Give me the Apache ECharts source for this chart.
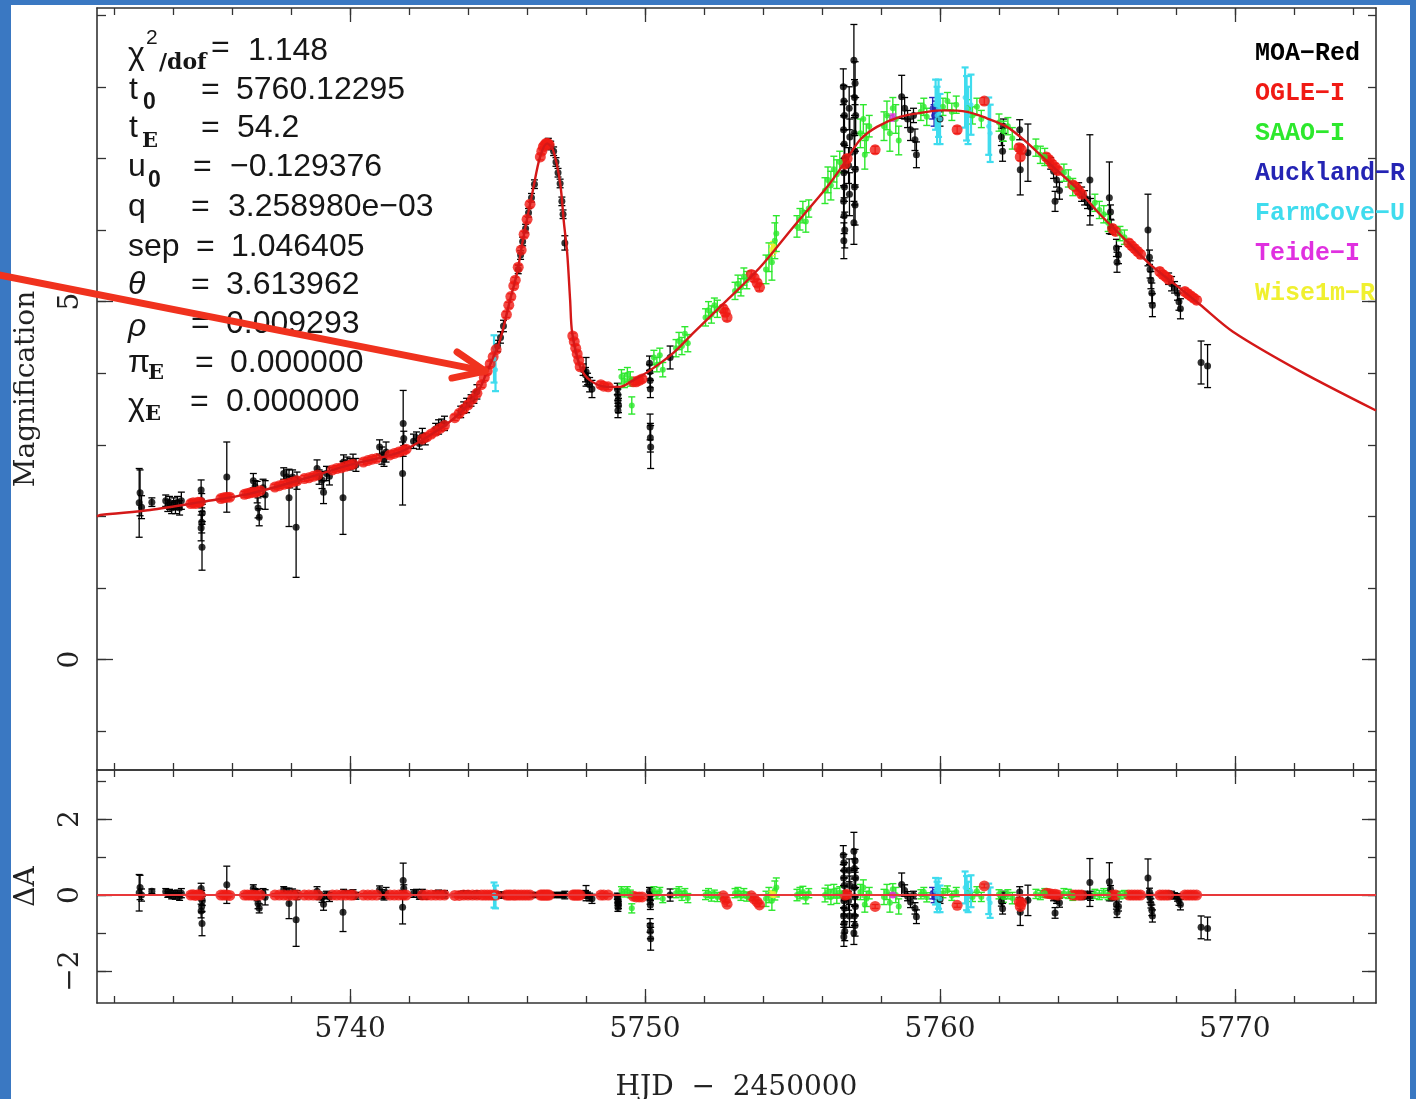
<!DOCTYPE html>
<html><head><meta charset="utf-8">
<script src="https://cdn.jsdelivr.net/npm/echarts@6/dist/echarts.min.js"></script>
<style>
html,body{margin:0;padding:0;width:1416px;height:1099px;overflow:hidden;background:#3a78c2;}
#paper{position:absolute;left:11px;top:5px;width:1399px;height:1094px;background:#ffffff;}
#chart{position:absolute;left:0;top:0;width:1416px;height:1099px;}
</style></head>
<body><div id="paper"></div><div id="chart"></div>
<script>
// ---------- axes ----------
const X_MIN = 5731.42, X_MAX = 5774.78;
const TOP_MIN = -1.54, TOP_MAX = 9.10;
const RES_MIN = -2.84, RES_MAX = 3.29;
const xMajorTicks = [5740, 5750, 5760, 5770];
const xMinorTicks = [5732,5734,5736,5738,5740,5742,5744,5746,5748,5750,5752,5754,5756,5758,5760,5762,5764,5766,5768,5770,5772,5774];
const topMajorTicks = [0, 5];
const topMinorTicks = [-1,0,1,2,3,4,5,6,7,8,9];
const resMajorTicks = [-2, 0, 2];
const resMinorTicks = [-2,-1,0,1,2,3];

// ---------- model curve ----------
const modelT = [5731.42,5731.53,5733.22,5734.92,5736.61,5738.31,5740.00,5741.69,5742.80,5743.40,5744.00,5744.41,5744.58,5745.08,5745.42,5745.66,5745.86,5746.20,5746.44,5746.68,5746.88,5747.12,5747.25,5747.36,5747.46,5747.53,5747.80,5748.14,5748.71,5749.15,5749.59,5750.17,5750.95,5751.63,5752.78,5753.90,5755.02,5756.17,5756.75,5757.29,5757.86,5758.64,5759.56,5760.10,5760.92,5761.59,5762.27,5762.95,5763.73,5764.64,5765.42,5766.34,5767.12,5768.03,5768.81,5769.93,5772.20,5774.78];
const modelA = [2.00,2.02,2.09,2.20,2.32,2.51,2.72,2.90,3.16,3.33,3.56,3.80,3.96,4.46,5.02,5.40,5.86,6.56,7.02,7.21,7.12,6.66,6.10,5.68,5.02,4.56,4.09,3.90,3.81,3.81,3.90,4.04,4.28,4.56,5.02,5.48,6.04,6.60,6.93,7.26,7.44,7.58,7.65,7.67,7.65,7.56,7.44,7.22,6.92,6.58,6.22,5.84,5.52,5.22,4.96,4.58,4.03,3.48];

// ---------- data: [HJD-2450000, magnification, error, residual] ----------
const moaData = [
[5732.85,2.19,0.48,0.06],[5732.88,2.33,0.32,0.20],[5732.93,2.13,0.16,0.00],[5733.28,2.20,0.06,0.10],
[5733.75,2.22,0.08,0.09],[5733.82,2.15,0.08,0.02],[5733.88,2.19,0.09,0.06],[5733.95,2.12,0.08,-0.02],
[5734.02,2.18,0.08,0.04],[5734.08,2.13,0.09,-0.02],[5734.15,2.20,0.08,0.05],[5734.22,2.12,0.10,-0.04],[5734.28,2.22,0.12,0.05],
[5734.95,2.37,0.14,0.17],[5734.97,2.22,0.10,0.02],[5734.99,2.05,0.12,-0.15],[5734.97,1.92,0.15,-0.30],[5734.95,1.84,0.18,-0.42],[5734.98,1.57,0.32,-0.75],
[5735.82,2.55,0.49,0.27],
[5736.72,2.50,0.10,0.17],[5736.78,2.42,0.08,0.09],[5736.85,2.34,0.15,0.00],[5736.88,2.12,0.14,-0.22],[5736.92,1.99,0.12,-0.35],[5737.05,2.40,0.12,0.05],[5737.12,2.30,0.20,-0.06],
[5737.75,2.60,0.08,0.14],[5737.85,2.55,0.10,0.08],[5737.95,2.48,0.08,0.01],[5737.93,2.26,0.40,-0.22],[5738.17,1.85,0.70,-0.65],[5738.05,2.55,0.10,0.06],[5738.20,2.50,0.12,0.00],
[5738.88,2.67,0.12,0.10],[5738.95,2.55,0.10,-0.02],[5739.05,2.51,0.12,-0.07],[5739.10,2.34,0.16,-0.24],[5739.20,2.60,0.10,0.00],[5739.30,2.56,0.12,-0.05],
[5739.76,2.26,0.51,-0.45],[5739.78,2.76,0.10,0.05],[5739.90,2.75,0.08,0.04],[5740.00,2.73,0.08,0.01],[5740.10,2.77,0.10,0.04],[5740.20,2.72,0.09,-0.02],
[5741.00,2.97,0.10,0.14],[5741.08,2.85,0.12,0.02],[5741.15,2.80,0.10,-0.03],[5741.22,2.90,0.14,0.06],
[5741.80,3.30,0.46,0.38],[5741.82,3.09,0.10,0.17],[5741.78,2.60,0.44,-0.32],
[5742.15,3.05,0.10,0.04],[5742.25,3.10,0.08,0.07],[5742.35,3.02,0.08,-0.03],[5742.45,3.13,0.10,0.05],[5742.55,3.08,0.08,-0.03],
[5742.90,3.22,0.08,0.03],[5743.00,3.25,0.10,0.03],[5743.10,3.28,0.08,0.03],[5743.20,3.30,0.10,0.02],
[5743.75,3.46,0.08,0.01],[5743.85,3.52,0.08,0.03],[5743.95,3.55,0.10,0.01],[5744.10,3.62,0.08,0.01],[5744.20,3.66,0.08,-0.01],[5744.30,3.74,0.10,0.01],
[5745.00,4.38,0.08,0.00],[5745.10,4.50,0.08,0.00],[5745.20,4.66,0.08,0.00],
[5745.70,5.45,0.06,0.00],[5745.78,5.65,0.06,0.00],[5745.85,5.84,0.06,0.00],[5745.95,6.02,0.06,0.00],[5746.05,6.24,0.06,0.00],[5746.15,6.45,0.06,0.00],[5746.25,6.64,0.06,0.00],
[5746.72,7.22,0.06,0.00],[5746.80,7.18,0.06,0.00],[5746.90,7.10,0.06,0.00],[5746.98,6.95,0.06,0.00],[5747.05,6.80,0.06,0.00],[5747.12,6.65,0.06,0.00],[5747.18,6.40,0.06,0.00],[5747.22,6.22,0.06,0.00],[5747.28,5.82,0.10,0.00],
[5747.90,4.05,0.08,0.03],[5747.98,3.98,0.10,0.02],[5748.00,4.02,0.20,0.05],[5748.05,3.92,0.08,0.00],[5748.12,3.84,0.10,-0.05],[5748.20,3.78,0.12,-0.10],
[5749.06,3.78,0.08,-0.03],[5749.08,3.70,0.08,-0.11],[5749.08,3.62,0.08,-0.19],[5749.10,3.55,0.10,-0.26],[5749.08,3.48,0.10,-0.33],
[5750.15,4.14,0.10,0.10],[5750.16,4.02,0.10,-0.02],[5750.17,3.90,0.10,-0.14],[5750.18,3.78,0.12,-0.26],[5750.17,3.25,0.18,-0.80],[5750.18,3.10,0.20,-0.95],[5750.19,2.97,0.30,-1.15],
[5750.85,4.22,0.16,0.00],
[5756.72,8.00,0.25,1.05],[5756.74,7.80,0.22,0.85],[5756.76,7.60,0.20,0.65],[5756.73,7.40,0.20,0.45],[5756.75,7.20,0.20,0.25],[5756.77,7.00,0.18,0.05],
[5756.74,6.80,0.20,-0.15],[5756.76,6.60,0.20,-0.35],[5756.73,6.40,0.22,-0.55],[5756.75,6.20,0.25,-0.75],[5756.77,6.00,0.25,-0.95],[5756.74,5.85,0.25,-1.10],
[5756.92,7.70,0.30,0.65],[5756.94,7.30,0.25,0.25],[5756.90,6.90,0.25,-0.15],[5756.93,6.50,0.30,-0.55],
[5757.08,8.37,0.50,1.15],[5757.12,8.05,0.30,0.90],[5757.10,7.85,0.25,0.70],[5757.14,7.60,0.25,0.45],[5757.09,7.35,0.22,0.20],
[5757.11,7.10,0.22,-0.05],[5757.13,6.85,0.25,-0.30],[5757.10,6.60,0.25,-0.55],[5757.12,6.35,0.28,-0.80],[5757.08,6.10,0.30,-1.00],
[5758.70,7.86,0.30,0.28],[5758.80,7.70,0.15,0.12],[5758.90,7.55,0.12,-0.03],[5759.00,7.40,0.15,-0.18],[5759.10,7.60,0.10,0.00],[5759.15,7.26,0.15,-0.35],[5759.20,7.05,0.18,-0.57],
[5760.00,7.55,0.10,-0.12],
[5762.08,7.30,0.12,-0.17],[5762.12,7.10,0.14,-0.36],[5762.15,7.45,0.10,0.00],
[5762.70,7.40,0.14,0.08],[5762.72,6.84,0.35,-0.45],[5762.98,7.08,0.40,-0.14],
[5763.75,6.93,0.08,0.01],[5763.85,6.82,0.10,-0.05],[5763.95,6.70,0.10,-0.12],[5764.05,6.55,0.12,-0.20],[5763.90,6.40,0.14,-0.47],
[5764.70,6.58,0.08,0.02],[5764.80,6.50,0.10,-0.02],[5764.90,6.45,0.10,0.00],[5765.00,6.38,0.08,-0.02],[5765.10,6.32,0.12,-0.02],[5765.08,6.70,0.63,0.33],
[5765.74,6.45,0.50,0.35],[5765.78,6.25,0.10,0.15],[5765.80,6.04,0.10,-0.05],[5765.98,5.75,0.12,-0.25],[5766.00,5.55,0.14,-0.45],[5766.05,5.65,0.12,-0.30],
[5767.05,6.00,0.50,0.45],[5767.10,5.62,0.10,0.08],[5767.12,5.45,0.12,-0.07],[5767.15,5.30,0.12,-0.22],[5767.18,5.12,0.14,-0.40],[5767.20,4.95,0.16,-0.55],
[5767.75,5.32,0.08,0.02],[5767.85,5.25,0.10,0.00],[5767.95,5.20,0.08,-0.02],[5768.05,5.12,0.10,-0.06],[5768.10,5.00,0.12,-0.15],[5768.15,4.90,0.14,-0.25],
[5768.85,4.15,0.30,-0.85],[5769.07,4.10,0.30,-0.88]
];
const ogleData = [
[5734.60,2.18,0.04,0.00],[5734.68,2.19,0.04,0.01],[5734.76,2.18,0.04,-0.01],[5734.84,2.20,0.04,0.01],[5734.92,2.20,0.04,0.00],
[5735.62,2.25,0.04,0.00],[5735.72,2.26,0.04,0.00],[5735.82,2.27,0.04,0.00],[5735.92,2.27,0.04,-0.01],
[5736.42,2.31,0.04,0.00],[5736.52,2.32,0.04,0.00],[5736.62,2.33,0.04,0.00],[5736.72,2.34,0.04,0.00],[5736.82,2.34,0.04,-0.01],[5736.95,2.36,0.04,0.00],
[5737.45,2.41,0.04,0.00],[5737.60,2.43,0.04,0.00],[5737.75,2.45,0.04,0.00],[5737.90,2.46,0.04,-0.01],[5738.05,2.48,0.04,0.00],[5738.20,2.50,0.04,0.00],
[5738.45,2.53,0.04,0.00],[5738.60,2.54,0.04,0.00],[5738.75,2.56,0.04,0.00],[5738.90,2.58,0.04,0.00],
[5739.40,2.65,0.04,0.00],[5739.55,2.67,0.04,0.00],[5739.70,2.68,0.04,0.00],[5739.85,2.70,0.04,0.00],[5740.00,2.72,0.04,0.00],[5740.10,2.73,0.04,0.00],
[5740.45,2.76,0.04,0.00],[5740.60,2.78,0.04,0.00],[5740.75,2.80,0.04,0.00],[5740.90,2.81,0.04,0.00],
[5741.35,2.86,0.04,0.00],[5741.50,2.88,0.04,0.00],[5741.65,2.90,0.04,0.00],[5741.80,2.92,0.04,0.00],[5741.90,2.94,0.04,0.00],
[5742.45,3.08,0.04,0.00],[5742.60,3.11,0.04,0.00],[5742.75,3.15,0.04,0.00],[5742.90,3.19,0.04,0.00],[5743.05,3.23,0.04,0.00],[5743.20,3.27,0.04,0.00],
[5743.55,3.38,0.04,-0.01],[5743.70,3.44,0.04,-0.01],[5743.85,3.50,0.04,0.00],[5744.00,3.56,0.04,0.00],[5744.15,3.64,0.04,0.00],[5744.30,3.72,0.04,0.00],[5744.45,3.84,0.04,0.00],
[5744.55,3.94,0.04,0.00],[5744.65,4.03,0.04,0.00],[5744.75,4.13,0.04,0.00],[5744.85,4.23,0.04,0.00],[5744.95,4.33,0.04,0.00],
[5745.30,4.82,0.04,0.00],[5745.38,4.95,0.04,0.00],[5745.45,5.07,0.04,0.00],[5745.55,5.22,0.04,0.00],[5745.60,5.30,0.04,0.00],
[5745.70,5.48,0.04,0.00],[5745.80,5.72,0.04,0.00],[5745.90,5.94,0.04,0.00],[5746.00,6.15,0.04,0.00],[5746.10,6.36,0.04,0.00],
[5746.45,7.02,0.04,0.00],[5746.50,7.10,0.04,0.00],[5746.55,7.16,0.04,0.00],[5746.60,7.19,0.04,0.00],[5746.65,7.21,0.04,0.00],[5746.70,7.21,0.04,0.00],[5746.75,7.19,0.04,0.00],
[5747.55,4.52,0.04,0.00],[5747.60,4.44,0.04,0.00],[5747.65,4.35,0.04,0.00],[5747.70,4.27,0.04,0.00],[5747.75,4.18,0.04,0.00],[5747.80,4.09,0.04,0.00],
[5748.50,3.84,0.04,0.00],[5748.60,3.82,0.04,0.00],[5748.75,3.81,0.04,0.00],
[5749.60,3.88,0.04,-0.03],[5749.70,3.88,0.04,-0.05],[5749.80,3.90,0.04,-0.05],[5749.90,3.92,0.04,-0.05],
[5752.65,4.90,0.05,-0.02],[5752.72,4.85,0.05,-0.12],[5752.78,4.78,0.05,-0.24],
[5753.60,5.38,0.05,-0.02],[5753.70,5.33,0.05,-0.10],[5753.80,5.26,0.05,-0.18],[5753.88,5.20,0.05,-0.26],
[5756.78,6.92,0.05,0.00],[5756.85,7.00,0.05,0.02],
[5757.80,7.12,0.05,-0.30],
[5760.58,7.40,0.05,-0.27],
[5761.50,7.80,0.05,0.24],
[5762.68,7.15,0.05,-0.17],[5762.72,7.02,0.05,-0.30],[5762.76,7.12,0.05,-0.20],
[5763.60,7.02,0.05,0.05],[5763.70,6.98,0.05,0.04],[5763.80,6.92,0.05,0.02],[5763.90,6.88,0.05,0.02],[5764.00,6.83,0.05,0.00],
[5764.50,6.63,0.05,0.00],[5764.60,6.60,0.05,0.00],[5764.70,6.55,0.05,0.00],[5764.80,6.50,0.05,0.00],
[5765.85,6.02,0.05,0.00],[5765.95,5.98,0.05,0.00],
[5766.40,5.82,0.05,0.00],[5766.50,5.78,0.05,0.00],[5766.60,5.74,0.05,0.00],[5766.70,5.70,0.05,0.00],[5766.80,5.66,0.05,0.00],
[5767.45,5.42,0.05,0.00],[5767.55,5.38,0.05,0.00],[5767.65,5.35,0.05,0.00],[5767.75,5.31,0.05,0.00],
[5768.30,5.14,0.05,0.00],[5768.40,5.11,0.05,0.00],[5768.50,5.08,0.05,0.00],[5768.60,5.05,0.05,0.00],[5768.70,5.02,0.05,0.00]
];
const saaoData = [
[5749.20,3.95,0.10,0.12],[5749.30,3.90,0.10,0.05],[5749.40,3.98,0.10,0.12],[5749.50,3.92,0.10,0.03],[5749.55,3.55,0.12,-0.35],
[5750.30,4.22,0.10,0.12],[5750.40,4.12,0.10,0.00],[5750.50,4.25,0.10,0.10],[5750.60,4.05,0.10,-0.10],
[5751.05,4.35,0.12,0.05],[5751.15,4.45,0.12,0.10],[5751.25,4.38,0.12,-0.02],[5751.35,4.55,0.10,0.07],[5751.45,4.42,0.12,-0.08],
[5752.05,4.78,0.12,0.00],[5752.15,4.88,0.12,0.05],[5752.25,4.82,0.12,-0.04],[5752.35,4.95,0.10,0.03],[5752.45,4.90,0.12,-0.05],
[5753.05,5.15,0.12,0.05],[5753.15,5.25,0.12,0.08],[5753.25,5.20,0.12,-0.02],[5753.35,5.35,0.12,0.05],[5753.45,5.30,0.12,-0.04],
[5754.10,5.45,0.20,-0.10],[5754.20,5.62,0.20,0.00],[5754.30,5.55,0.25,-0.15],[5754.40,5.85,0.25,0.12],[5754.45,5.95,0.25,0.20],
[5755.15,6.05,0.15,0.00],[5755.25,6.15,0.15,0.05],[5755.35,6.25,0.15,0.08],[5755.45,6.12,0.15,-0.08],[5755.55,6.30,0.12,0.05],
[5756.10,6.55,0.18,0.00],[5756.20,6.70,0.18,0.08],[5756.30,6.62,0.20,-0.05],[5756.40,6.85,0.18,0.10],[5756.50,6.78,0.20,-0.02],[5756.60,6.95,0.15,0.07],
[5757.30,7.35,0.20,0.08],[5757.40,7.55,0.20,0.20],[5757.45,7.05,0.20,-0.25],[5757.50,7.28,0.20,-0.10],[5757.60,7.45,0.15,0.05],
[5758.10,7.45,0.20,-0.05],[5758.20,7.60,0.20,0.08],[5758.30,7.35,0.25,-0.20],[5758.40,7.70,0.15,0.15],[5758.50,7.55,0.20,0.00],[5758.60,7.25,0.20,-0.30],
[5759.35,7.65,0.12,0.02],[5759.45,7.72,0.12,0.08],[5759.55,7.58,0.12,-0.06],
[5760.10,7.72,0.12,0.05],[5760.25,7.80,0.12,0.12],[5760.40,7.65,0.12,-0.02],[5760.55,7.75,0.12,0.08],
[5760.95,7.70,0.12,0.05],[5761.10,7.60,0.12,-0.05],[5761.25,7.72,0.12,0.10],[5761.40,7.55,0.12,-0.05],
[5762.00,7.50,0.12,0.02],[5762.15,7.38,0.14,-0.05],[5762.30,7.45,0.12,0.02],[5762.45,7.28,0.15,-0.08],
[5763.25,7.15,0.12,0.03],[5763.40,7.05,0.12,0.00],[5763.55,7.02,0.12,0.05],
[5764.20,6.80,0.12,0.05],[5764.35,6.72,0.12,0.03],[5764.50,6.60,0.12,-0.02],
[5765.25,6.38,0.12,0.03],[5765.40,6.28,0.12,0.00],[5765.55,6.22,0.12,0.05],[5765.70,6.10,0.12,0.00],
[5766.10,5.95,0.10,0.00],[5766.25,5.90,0.10,0.02]
];
const aucklandData = [[5759.75,7.70,0.15,0.05],[5759.80,7.60,0.15,-0.05],[5759.85,7.68,0.12,0.02]];
const farmcoveData = [
[5744.88,4.20,0.33,0.00],[5744.93,4.05,0.30,-0.05],
[5759.85,7.75,0.35,0.10],[5759.90,7.60,0.40,-0.05],[5759.95,7.70,0.40,0.04],[5760.00,7.55,0.35,-0.10],
[5760.85,7.85,0.42,0.20],[5760.90,7.70,0.45,0.05],[5760.95,7.60,0.40,-0.05],[5761.05,7.75,0.42,0.10],
[5761.65,7.45,0.40,-0.10],[5761.70,7.35,0.40,-0.20]
];
const teideData = [[5758.40,7.57,0.05,0.00]];
const wiseData = [[5754.30,5.72,0.08,0.02],[5754.36,5.76,0.08,0.03]];

// arrow annotation, data coordinates (tail off the left edge, tip on the curve)
const arrowTail = [5728.14, 5.37];
const arrowTip = [5744.58, 4.03];

const datasets = [
  {name:'MOA\u2212Red',     color:'#000000', size:7,  lw:1.3, data:moaData},
  {name:'OGLE\u2212I',      color:'#f01a14', size:11, lw:1.2, data:ogleData},
  {name:'SAAO\u2212I',      color:'#2de82d', size:6,  lw:1.4, data:saaoData},
  {name:'Auckland\u2212R',  color:'#2424b4', size:6,  lw:1.4, data:aucklandData},
  {name:'FarmCove\u2212U',  color:'#3fdcee', size:5,  lw:2.2, data:farmcoveData},
  {name:'Teide\u2212I',     color:'#e030e0', size:7,  lw:1.2, data:teideData},
  {name:'Wise1m\u2212R',    color:'#f0f030', size:6,  lw:1.2, data:wiseData}
];

const SERIF = '"DejaVu Serif", serif';
const AXC = '#333';
const frameLine = {show:true, onZero:false, lineStyle:{color:AXC, width:1.6}};
const noLine = {show:false, onZero:false};

function xAx(grid, pos, ticks, len, line, labels, name) {
  const a = {type:'value', gridIndex:grid, position:pos, min:X_MIN, max:X_MAX,
    axisLine: line ? frameLine : noLine,
    axisTick:{show:true, inside:true, length:len, customValues:ticks, lineStyle:{color:AXC, width:1.3}},
    axisLabel:{show:false}, splitLine:{show:false}, axisPointer:{show:false}};
  if (labels) a.axisLabel = {show:true, customValues:labels, fontFamily:SERIF, fontSize:28, color:'#222', margin:13,
    formatter: v => String(v)};
  if (name) Object.assign(a, {name:name, nameLocation:'middle', nameGap:71,
    nameTextStyle:{fontFamily:SERIF, fontSize:28, color:'#222'}});
  return a;
}
function yAx(grid, pos, min, max, ticks, len, line, labels, name) {
  const a = {type:'value', gridIndex:grid, position:pos, min:min, max:max,
    axisLine: line ? frameLine : noLine,
    axisTick:{show:true, inside:true, length:len, customValues:ticks, lineStyle:{color:AXC, width:1.3}},
    axisLabel:{show:false}, splitLine:{show:false}, axisPointer:{show:false}};
  if (labels) a.axisLabel = {show:true, customValues:labels, rotate:90, fontFamily:SERIF, fontSize:28, color:'#222', margin:12,
    formatter: v => (v < 0 ? '\u2212' + Math.abs(v) : String(v))};
  if (name) Object.assign(a, {name:name, nameLocation:'middle', nameGap:56,
    nameTextStyle:{fontFamily:SERIF, fontSize:28, color:'#222'}});
  return a;
}

const xAxes = [
  xAx(0,'bottom',xMajorTicks,14,true),  xAx(0,'bottom',xMinorTicks,7,false),
  xAx(0,'top',xMajorTicks,14,true),     xAx(0,'top',xMinorTicks,7,false),
  xAx(1,'bottom',xMajorTicks,14,true,xMajorTicks,'HJD  \u2212  2450000'), xAx(1,'bottom',xMinorTicks,7,false),
  xAx(1,'top',xMajorTicks,14,true),     xAx(1,'top',xMinorTicks,7,false)
];
const yAxes = [
  yAx(0,'left',TOP_MIN,TOP_MAX,topMajorTicks,16,true,topMajorTicks,'Magnification'),
  yAx(0,'left',TOP_MIN,TOP_MAX,topMinorTicks,9,false),
  yAx(0,'right',TOP_MIN,TOP_MAX,topMajorTicks,14,true),
  yAx(0,'right',TOP_MIN,TOP_MAX,topMinorTicks,8,false),
  yAx(1,'left',RES_MIN,RES_MAX,resMajorTicks,15,true,resMajorTicks,'\u0394A'),
  yAx(1,'left',RES_MIN,RES_MAX,resMinorTicks,9,false),
  yAx(1,'right',RES_MIN,RES_MAX,resMajorTicks,14,true),
  yAx(1,'right',RES_MIN,RES_MAX,resMinorTicks,8,false)
];

function errBar(yDim, color, lw, cap) {
  return function (params, api) {
    const t = api.value(0), v = api.value(yDim), e = api.value(2);
    const p1 = api.coord([t, v + e]), p2 = api.coord([t, v - e]);
    const st = {stroke:color, lineWidth:lw};
    return {type:'group', children:[
      {type:'line', shape:{x1:p1[0], y1:p1[1], x2:p2[0], y2:p2[1]}, style:st},
      {type:'line', shape:{x1:p1[0]-cap, y1:p1[1], x2:p1[0]+cap, y2:p1[1]}, style:st},
      {type:'line', shape:{x1:p2[0]-cap, y1:p2[1], x2:p2[0]+cap, y2:p2[1]}, style:st}
    ]};
  };
}

const series = [];
// top panel
datasets.forEach(d => {
  series.push({type:'custom', name:d.name, xAxisIndex:0, yAxisIndex:0, data:d.data, encode:{x:0, y:1},
    renderItem: errBar(1, d.color, d.lw, 3.5), clip:true, silent:true});
  series.push({type:'scatter', name:d.name, xAxisIndex:0, yAxisIndex:0, data:d.data, encode:{x:0, y:1},
    symbol:'circle', symbolSize:d.size, itemStyle:{color:d.color}, clip:true, silent:true});
});
series.push({type:'line', name:'model', xAxisIndex:0, yAxisIndex:0,
  data: modelT.map((t, i) => [t, modelA[i]]), showSymbol:false, smooth:0.3,
  lineStyle:{color:'#d41818', width:2.4}, z:5, silent:true, clip:true});
// residual panel
datasets.forEach(d => {
  series.push({type:'custom', name:d.name, xAxisIndex:4, yAxisIndex:4, data:d.data, encode:{x:0, y:3},
    renderItem: errBar(3, d.color, d.lw, 3.5), clip:true, silent:true});
  series.push({type:'scatter', name:d.name, xAxisIndex:4, yAxisIndex:4, data:d.data, encode:{x:0, y:3},
    symbol:'circle', symbolSize:d.size, itemStyle:{color:d.color}, clip:true, silent:true});
});
series.push({type:'line', name:'zero', xAxisIndex:4, yAxisIndex:4, data:[[X_MIN,0],[X_MAX,0]],
  showSymbol:false, lineStyle:{color:'#e8383a', width:2}, z:5, silent:true});

const chart = echarts.init(document.getElementById('chart'), null, {renderer:'canvas'});
chart.setOption({
  animation:false,
  backgroundColor:'transparent',
  grid:[
    {left:97, right:40, top:8, height:762, containLabel:false, outerBoundsMode:'none'},
    {left:97, right:40, top:770, height:233, containLabel:false, outerBoundsMode:'none'}
  ],
  xAxis:xAxes, yAxis:yAxes,
  legend:{orient:'vertical', left:1250, top:41, padding:0, icon:'none', itemWidth:0, itemHeight:20, itemGap:15,
    selectedMode:false,
    textStyle:{fontFamily:'"Liberation Mono", monospace', fontWeight:'bold', fontSize:25, lineHeight:22},
    data: datasets.map(d => ({name:d.name, textStyle:{color:d.color}}))},
  series:series
});

// ---------- annotations: parameter block + arrow ----------
const SANS = '"Liberation Sans", Arial, sans-serif';
const f = (px, fam, extra) => (extra ? extra + ' ' : '') + px + 'px ' + fam;
const paramTexts = [
  ['\u03c7', 128, 55, f(32,SANS)], ['2', 146, 38, f(21,SANS)], ['/dof', 159, 63, f(22,SERIF,'bold')], ['=', 211, 48, f(32,SANS)], ['1.148', 248, 51, f(32,SANS)],
  ['t', 129, 90, f(32,SANS)], ['0', 143, 103, f(23,SANS,'bold')], ['=', 201, 90, f(32,SANS)], ['5760.12295', 236, 90, f(32,SANS)],
  ['t', 129, 128, f(32,SANS)], ['E', 142, 142, f(21,SERIF,'bold')], ['=', 201, 128, f(32,SANS)], ['54.2', 237, 128, f(32,SANS)],
  ['u', 128, 167, f(32,SANS)], ['0', 148, 181, f(23,SANS,'bold')], ['=', 193, 167, f(32,SANS)], ['\u22120.129376', 230, 167, f(32,SANS)],
  ['q', 128, 207, f(32,SANS)], ['=', 191, 207, f(32,SANS)], ['3.258980e\u221203', 228, 207, f(32,SANS)],
  ['sep', 128, 247, f(32,SANS)], ['=', 196, 247, f(32,SANS)], ['1.046405', 231, 247, f(32,SANS)],
  ['\u03b8', 128, 285, f(32,SANS,'italic')], ['=', 191, 285, f(32,SANS)], ['3.613962', 226, 285, f(32,SANS)],
  ['\u03c1', 128, 327, f(32,SANS,'italic')], ['=', 191, 324, f(32,SANS)], ['0.009293', 226, 324, f(32,SANS)],
  ['\u03c0', 128, 363, f(32,SANS)], ['E', 148, 374, f(21,SERIF,'bold')], ['=', 195, 363, f(32,SANS)], ['0.000000', 230, 363, f(32,SANS)],
  ['\u03c7', 128, 406, f(32,SANS)], ['E', 145, 415, f(21,SERIF,'bold')], ['=', 190, 402, f(32,SANS)], ['0.000000', 226, 402, f(32,SANS)]
];
const graphics = paramTexts.map((p, i) => ({type:'text', id:'pt'+i, x:p[1], y:p[2], z:50, silent:true,
  style:{text:p[0], font:p[3], fill:'#161616', align:'left', verticalAlign:'middle', textAlign:'left', textVerticalAlign:'middle'}}));

const tail = chart.convertToPixel({seriesIndex:0}, arrowTail);
const tip = chart.convertToPixel({seriesIndex:0}, arrowTip);
const ang = Math.atan2(tail[1] - tip[1], tail[0] - tip[0]);
const wingLen = 34, wingAng = 23 * Math.PI / 180;
const w1 = [tip[0] + wingLen * Math.cos(ang + wingAng), tip[1] + wingLen * Math.sin(ang + wingAng)];
const w2 = [tip[0] + wingLen * Math.cos(ang - wingAng), tip[1] + wingLen * Math.sin(ang - wingAng)];
const arrowStyle = {stroke:'#f0321e', lineWidth:7, lineCap:'round', lineJoin:'round'};
graphics.push({type:'line', id:'arrowShaft', z:60, silent:true, shape:{x1:tail[0], y1:tail[1], x2:tip[0], y2:tip[1]}, style:arrowStyle});
graphics.push({type:'polyline', id:'arrowHead', z:60, silent:true, shape:{points:[w1, tip, w2]}, style:Object.assign({fill:null}, arrowStyle)});
chart.setOption({graphic:graphics});
</script></body></html>
